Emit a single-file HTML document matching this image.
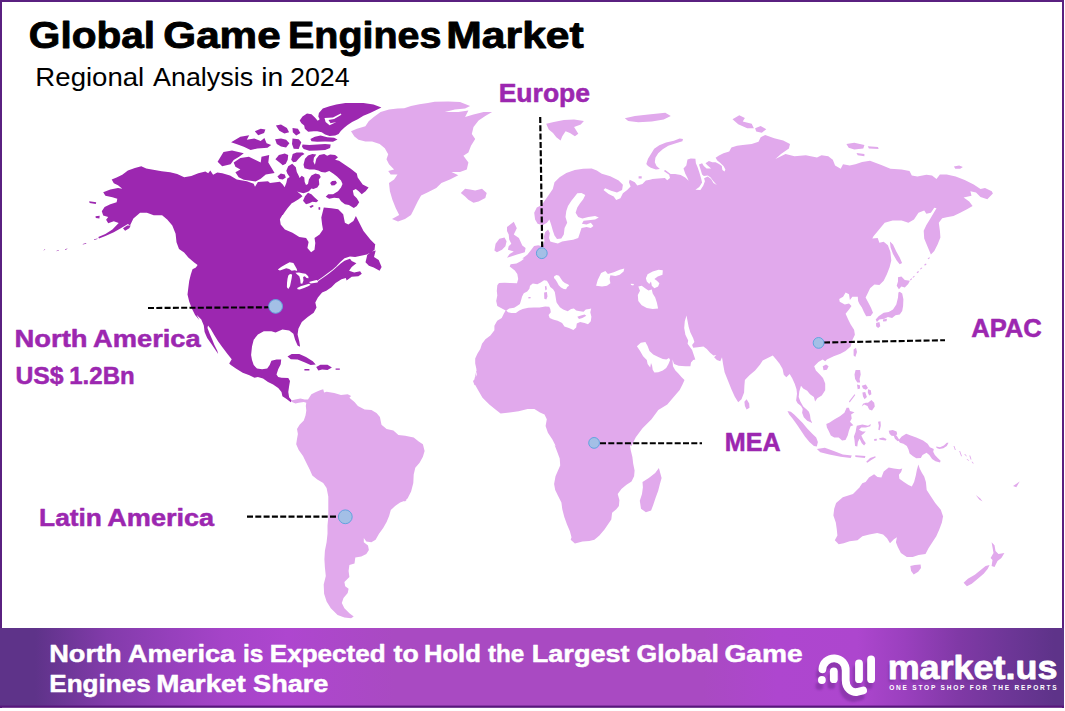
<!DOCTYPE html>
<html>
<head>
<meta charset="utf-8">
<title>Global Game Engines Market</title>
<style>
  html,body{margin:0;padding:0;background:#fff;}
  body{width:1065px;height:711px;overflow:hidden;position:relative;font-family:"Liberation Sans",sans-serif;}
  svg{position:absolute;left:0;top:0;display:block;}
  text{font-family:"Liberation Sans",sans-serif;}
  .b{font-weight:bold;}
</style>
</head>
<body>
<svg width="1065" height="711" viewBox="0 0 1065 711">
  <defs>
    <linearGradient id="fg" x1="0" y1="0" x2="1065" y2="0" gradientUnits="userSpaceOnUse">
      <stop offset="0" stop-color="#5E3389"/>
      <stop offset="0.033" stop-color="#5E3389"/>
      <stop offset="0.10" stop-color="#823BAA"/>
      <stop offset="0.16" stop-color="#9640BC"/>
      <stop offset="0.21" stop-color="#A544C8"/>
      <stop offset="0.27" stop-color="#AE46CF"/>
      <stop offset="0.37" stop-color="#A94AC2"/>
      <stop offset="0.66" stop-color="#A94AC2"/>
      <stop offset="0.73" stop-color="#AE46CF"/>
      <stop offset="0.805" stop-color="#AD46CE"/>
      <stop offset="0.85" stop-color="#9A40BE"/>
      <stop offset="0.90" stop-color="#8039A6"/>
      <stop offset="0.95" stop-color="#6C3696"/>
      <stop offset="0.99" stop-color="#5E3389"/>
      <stop offset="1" stop-color="#5E3389"/>
    </linearGradient>
    <filter id="sb" x="-20%" y="-20%" width="140%" height="140%"><feGaussianBlur stdDeviation="0.8"/></filter>
  </defs>
  <rect x="0" y="0" width="1065" height="711" fill="#fff"/>
  <!-- map -->
  <g id="map" stroke-linejoin="round">
<path fill="#9C27B0" d="M98.3,237.1 L105.4,233.9 L112.4,229.4 L118.7,222.9 L113.8,221.2 L108.2,223.3 L106.1,219.8 L108.2,217 L103.2,215.6 L101.8,211.3 L104.6,207.1 L110.3,204.3 L116.6,202.2 L117.3,198.7 L112.4,197.3 L105.4,195.8 L103.2,192.3 L110.3,189.5 L118,188.1 L122.3,188.8 L118,185.3 L113.8,183.2 L111.7,179.6 L116.6,177.5 L122.3,174.7 L127.9,170.5 L134.9,168 L141.3,166.3 L146.2,168.4 L153.2,169.8 L161.7,171.2 L170.1,172.2 L177.2,174 L184.2,177.3 L191.3,176.1 L198.3,173.3 L205.4,171.6 L208.2,173.3 L210.3,170.5 L213.1,174.7 L217.3,172.6 L222.3,173.3 L230,175.4 L236.8,179.6 L246.9,181.3 L253.7,183.8 L255,186.8 L257.9,182.1 L268,181.3 L270,183 L275.9,182.3 L279.9,181.7 L282.8,184.4 L284.6,187.2 L286.3,183 L287.3,178.5 L289.7,177 L287.3,173.6 L286.3,170.8 L288.2,166.2 L292.2,163.7 L295.8,167.2 L296.8,172.1 L298.6,175.6 L299.6,178 L301.7,175.8 L304.3,177.5 L304.7,182 L306,184.9 L308,183.9 L308.9,179.5 L311.4,175.6 L315.4,173.6 L319.3,174.6 L320.8,177 L318.8,179.5 L319.3,184.4 L317.3,187.4 L313.4,188.9 L311.4,188.4 L308.9,191.3 L306.5,192.3 L303.5,193.3 L299.6,192.3 L297.1,191.5 L300.6,194.3 L302.5,196.3 L298.6,199.2 L293.7,202.2 L291.7,203.2 L287.7,208.1 L284.8,212 L282.8,215 L282.4,215.1 L279.9,219.3 L280.7,224.4 L284.9,229.4 L292.5,232.8 L299.3,237 L306.1,237.9 L308.6,242.1 L307.4,248 L311.1,252.2 L314.5,249.7 L315.3,243 L314.5,237.9 L319.6,234.5 L323,229.4 L322.1,224.4 L321.3,217.6 L323.8,207.5 L331.4,208.3 L338.2,209.2 L343.2,214.2 L344.9,222.7 L348.3,224.4 L353.4,221 L355.9,215.9 L358.4,221 L363.5,231.1 L370.3,239.6 L375.3,244.6 L375.3,243.4 L374.5,250.1 L366.9,254.4 L355.1,256.9 L350,256.4 L344.5,258.2 L340.3,262 L336.1,266.4 L336.5,267.2 L340.7,263.5 L344.5,260.8 L350,258.7 L351.7,261.1 L356.4,263.3 L351.7,267 L349.1,270.8 L354.2,272.4 L360.1,271.3 L361.8,273.8 L358.4,276.3 L351.7,276.8 L346.6,280.6 L345.8,278 L341.5,279.2 L335.6,283.1 L331.4,287.3 L326.3,290.7 L322.1,292.4 L317.9,297.5 L315.3,302.5 L316.5,307.6 L313.7,312.7 L307.7,316.9 L301.8,322 L298.4,328.7 L297.6,334.6 L299.3,341.4 L300.1,346.8 L297.6,345.6 L295.1,339.7 L293.4,333.8 L289.2,330.4 L282.4,329.6 L275.6,332.6 L271.4,331.3 L263.8,331.3 L257.9,334.6 L253.7,339.7 L252,346.5 L251.1,354.9 L252,360 L253.7,365.1 L257,368.4 L262.1,369.3 L267.2,368.4 L269.7,365.1 L271.4,360.8 L276.5,359.5 L281.2,359.5 L280.7,364.2 L278.2,369.3 L276.5,374.4 L278.2,376.9 L281.5,377.7 L288.3,378.1 L290,381.1 L289.1,386.2 L288.3,392.1 L289.1,397.2 L291.7,400.6 L290.8,402.2 L286.6,398.9 L282.4,396.3 L281.5,392.1 L278.2,387.9 L273.1,384.5 L268,382 L263,378.6 L257.9,376.9 L254.5,377.7 L249.4,375.2 L242.7,372.7 L235.9,368.4 L230.8,365.1 L229.2,363.4 L231.7,359.2 L227.5,354.1 L222.4,347.3 L218.2,341.4 L213.9,334.6 L210.6,328.7 L208,325.4 L207.5,327.9 L209.7,333.8 L212.3,339.7 L214.3,344.8 L217.3,350.7 L218.2,354.1 L214.8,349 L211.4,343.9 L207.2,338 L204.6,332.1 L203.8,325.4 L201.3,319.4 L197,315.2 L192,308.5 L189.4,300.8 L199.3,320 L195.1,314.9 L191.7,308.2 L189.2,301.4 L187.5,294.6 L188.3,287.9 L189.2,281.1 L190.8,274.4 L192.5,269.3 L195.9,267.6 L197.6,265.1 L194.2,262.5 L188.3,257.5 L184.1,252.4 L179,249 L176.5,242.3 L175.6,233.8 L172.3,225.4 L167.2,219.4 L162.1,215.2 L153.7,215.2 L146.9,212.7 L140.1,212.7 L133.4,218.6 L130,225.4 L127.9,224 L120.8,228.2 L113.8,232.2 L105.4,236 L99,238.4Z M367.2,254.9 L371.1,251.8 L375.7,250.5 L374,256.9 L378.7,259.9 L381.6,267 L379.6,270.8 L373.7,267.4 L368.9,265.7 L365.5,262.3 L366.6,257.7Z"/>
<path fill="#FFFFFF" d="M277.8,269.4 L281.1,266.9 L285.4,264.4 L289.6,262.3 L293.4,263.1 L295.1,266.1 L296.8,269 L297.2,271.1 L294.7,270.3 L291.7,270.7 L289.2,269 L286.2,268.2 L282.8,269.4 L279.9,270.5Z M288.3,275.4 L290,274.1 L292.1,274.5 L291.7,277.9 L290.9,282.1 L290,286.3 L288.3,288.9 L286.9,287.2 L287,283 L287.5,278.7Z M295.5,272.8 L298.9,272.4 L302.3,273.2 L305.6,273.7 L308.2,276.2 L308.6,278.3 L306.5,277.9 L304.8,276.2 L303.1,277 L303.5,280.4 L302.3,283.8 L300.6,283.4 L300.2,279.6 L299.3,276.2 L297.2,274.5Z M297.2,288 L300.6,286.3 L304.8,285.1 L309,283.8 L310.7,284.7 L308.2,286.3 L304,288 L299.7,289.6 L297.6,289.3Z M309,282.1 L312.4,280.9 L316.6,280 L318.3,280.9 L317.5,282.5 L314.1,283.1 L310.7,283.4Z M317.9,280.3 L322.6,276.9 L327.6,273.3 L332.7,269.5 L336.1,266.6 L336.5,267.2 L333.1,270.3 L328,274.2 L323,277.7 L318.3,281.1Z"/>
<path fill="#9C27B0" d="M287.5,356.6 L291.7,354.1 L299.3,354.1 L306,357.1 L312.8,361.2 L315.7,364.6 L310.6,365.1 L304.4,362.2 L297.6,359.5 L290.8,359.2Z M316.2,367.1 L320.4,364.7 L327.5,364.7 L331.9,367.6 L327.5,370.1 L322.1,369.6 L318.4,370.6Z M304.4,369 L309.4,369 L309.4,370.6 L304.4,370.6Z M335.6,368.4 L339.8,368.4 L339.8,369.8 L335.6,369.8Z M89.2,201.2 L96.2,202.2 L95.8,203.9 L89.6,202.9Z M95.5,216.3 L99.7,215.8 L99.4,218.4 L95.8,218.1Z M123,228.2 L127.2,225.4 L130.7,225.4 L129.3,228.2 L125.1,230.8Z M303,200.7 L305,196.3 L308,192.8 L311.4,194.3 L314.4,197.3 L318.3,200.7 L316.3,202.2 L312.4,201.7 L309.4,203.2 L306,204.2Z M303.5,164.7 L305,158.8 L308,155.4 L312.4,153.9 L316.3,154.4 L313.9,157.8 L313.4,161.8 L314.9,164.7 L316.3,158.8 L319.3,154.9 L324.2,154.1 L327.2,155.8 L330.1,154.4 L335.1,154.9 L338,157.3 L335.1,159.8 L339,160.8 L344.9,164.7 L350.8,168.7 L356.8,173.6 L357.7,177.5 L362.7,184.4 L368.6,187.4 L365.6,191.3 L361.7,194.3 L358.7,191.3 L355.8,188.9 L352.8,190.4 L353.8,195.3 L356.8,198.2 L359.2,202.2 L356.8,206.1 L353.8,208.1 L348.9,205.1 L344.9,204.2 L341,201.2 L339,198.2 L334.1,197.7 L329.2,198.7 L325.7,196.8 L328.2,194.3 L333.1,194.3 L338,191.3 L341,187.4 L342.5,183.9 L341,180.5 L337,176.5 L333.1,173.6 L329.2,171.1 L325.2,172.6 L321.3,172.1 L318.3,170.6 L314.4,169.6 L309.4,169.6 L304.5,168.2Z M330.1,183 L332.1,181 L335.6,180.7 L337,183 L334.6,185.2 L331.6,185.4Z M291.2,159.8 L292.7,153.9 L296.6,152.4 L302.5,152.4 L304.5,153.9 L301.5,155.8 L298.6,158.8 L296.1,161.8 L293.2,162.3Z M275.4,159.3 L278.9,154.9 L284.8,153.4 L288.2,154.9 L287.7,159.8 L285.8,163.7 L282.8,165.2 L279.9,162.7Z M277.4,176.5 L280.8,173.6 L284.8,174.6 L285.8,177.5 L282.8,179.5 L279.4,179Z M309.4,206.6 L312.4,205.1 L313.9,206.1 L310.9,208.1Z M318.3,207.6 L320.1,207.1 L320.3,209.6 L318.8,210.1Z M318.9,113 L322.8,108.5 L329.6,106.3 L336.3,104.6 L345.4,103.1 L354.4,102.9 L363.4,103.1 L373.5,104.6 L381.4,107.4 L375.8,110.2 L370.1,113 L363.4,115.8 L357.7,119.2 L352.1,122 L347.6,124.9 L344.2,127.7 L340.8,131.1 L338.6,133.9 L335.2,135.6 L329.6,136.1 L325.1,134.4 L321.7,132.2 L317.2,131.3 L313.8,131.3 L308.2,131.8 L304.8,128.8 L304.2,125.4 L301.4,123.2 L299.7,120.4 L302.5,116.4 L307,113.6 L311.5,114.2 L314.9,117.5 L317.7,120.7 L319.7,119.2 L318.3,116.4Z"/>
<path fill="#FFFFFF" d="M324.5,118.1 L333,117.5 L340.8,113.6 L341.4,114.7 L334.1,118.9 L328.5,120 L330.5,123.2 L336.3,122 L329.6,125.2 L325.6,122Z"/>
<path fill="#9C27B0" d="M310.4,138.9 L314.9,136.7 L320.6,135.6 L327.3,137.3 L334.1,137.8 L337.5,139.5 L333,141.8 L325.1,141.4 L317.2,141.8 L311.5,141.2Z M302.5,144.6 L309.3,145.1 L317.2,144.6 L325.1,144 L330.7,144.6 L330.1,148 L325.1,150 L317.2,150.4 L309.3,150.8 L303.7,149.1 L302,146.8Z M275.9,125.4 L281,124.6 L286.9,128 L289.1,132.2 L284.4,133.5 L279.3,130.8Z M292.5,128 L297.9,128.8 L300.4,133 L296.2,135.6 L292.8,132.2Z M275.1,139.3 L281,138.6 L286.1,139.8 L289.4,143.2 L286.1,147.4 L281,146.5 L276.8,144Z M292.5,138.6 L298.7,139.3 L301.3,142.3 L298.7,149.1 L293.7,148.7 L292,144Z M254.8,131.3 L260.7,128.8 L265.4,129.6 L264.1,133 L258.2,135.2Z M231.1,142.3 L240.4,136.7 L249.2,135.2 L246.8,139.8 L254.3,138.6 L260.7,141 L264.4,138.1 L266.6,143.2 L271.2,144.9 L267.5,147.7 L257.3,148.4 L250.6,150.1 L243.8,146.7 L237,144.3Z M217.6,161.8 L223.5,152 L232,150.4 L243.8,153.3 L239.1,156.7 L233.7,160.1 L230.6,164.3 L222.2,166.3Z M233.7,162.6 L240.4,157.9 L248.9,156.7 L255.6,160.1 L260.7,162.6 L261.5,156.7 L269.2,155 L268.3,162.6 L272.5,169.4 L274.6,173.1 L265.8,174.4 L260.7,178.7 L255.6,181.5 L243.8,179.8 L238.7,177.3 L235.4,172.2 L240.4,169.4 L235.4,166.8Z"/>
<path fill="#E1A9EC" d="M351,131.3 L356.9,128.8 L365.4,126.3 L368.7,121.2 L373.8,117 L380.6,111.9 L389,109.4 L397.5,108.5 L404.2,108.2 L411,106 L419.4,104.3 L427.9,103.1 L434.6,101.8 L448.2,101.4 L460,102.1 L470.1,106 L465.1,108.5 L454.9,109.4 L444.8,111.9 L458.3,111.9 L468.4,110.5 L465.1,117 L473.5,114.4 L483.7,111.9 L492.1,111.9 L485.3,116.1 L478.6,120.4 L473.5,127.1 L471.8,133.9 L475.2,138.9 L471,145.7 L468.4,152.5 L463.4,155.8 L468.4,162.6 L466.8,169.4 L460,171.9 L451.5,171.9 L458.3,175.3 L449.9,179.5 L441.4,182.9 L436.3,188 L427.9,192.2 L421.1,195.6 L417.7,201.5 L414.4,208.2 L411,215 L405,219 L398,221.5 L392,219 L399.2,215 L395.8,208.2 L392.4,199.8 L389.9,191.3 L389,182.9 L394.1,179.5 L397.5,174.4 L390.7,174.4 L388.2,171.1 L394.1,169.4 L389,164.3 L386.5,159.2 L388.2,154.2 L384.8,148.2 L379.7,144 L372.1,141.5 L365.4,141.5 L358.6,139.8 L354.4,136.4Z M460.8,193 L465.1,188.8 L470.1,189.6 L475.2,190.5 L482,188.8 L486.7,193 L485.3,198.1 L478.6,201.5 L473.5,202.8 L468.4,199.8 L465.1,196.4Z M291.1,400.5 L295.4,399.4 L300.4,398.5 L304.6,399.4 L308,399.4 L311.4,394.3 L316.5,391.8 L320.7,390.1 L323.2,389.2 L324.1,392.6 L326.6,391.8 L334.2,393.1 L341,395.1 L347.7,394.3 L351.1,396 L349.4,397.7 L354.5,401.9 L357.9,406.1 L364.6,409.5 L371.4,410 L376.5,412.9 L379.9,417.1 L381.5,424.7 L386.6,428.9 L393.4,430.6 L398.4,434.9 L405.2,435.7 L413.7,437.4 L418.7,441.6 L422.9,444.2 L424.6,450.9 L422.9,456.8 L419.6,462.7 L415.3,467.8 L413.7,474.6 L413.3,483 L411.1,491.5 L407.7,498.2 L403.5,502.5 L406.9,500 L400.1,502.5 L395.1,505.9 L390.8,510.1 L389.1,516.1 L386.6,522 L383.2,527.9 L379,533.8 L375.6,539.7 L371.4,542.3 L366.3,541.4 L363.8,538 L363.8,542.3 L368,545.6 L368.9,549.9 L366.3,554.1 L361.3,556.6 L355.3,557.5 L354.5,563.4 L349.4,565.1 L348.6,571 L349.4,576.9 L344.4,582 L345.2,586.2 L348.6,588.7 L347.7,593 L343.5,598 L341.8,603.1 L344.4,608.2 L349.4,613.2 L353.7,616.6 L351.1,618.3 L344.4,617.5 L337.6,614.9 L330.8,608.2 L326.6,601.4 L324.1,593.8 L323.7,584.5 L325.8,576.1 L324.9,567.6 L324.4,559.2 L324.9,550.7 L326.6,542.3 L327.5,533.8 L327.5,525.4 L328.3,516.9 L328.3,508.5 L328.3,500 L328.3,496.5 L326.6,488.1 L323.2,483 L317.3,479.6 L312.3,475.4 L309.7,469.5 L306.3,462.7 L303,456 L298.7,450.1 L296.2,444.2 L297,439.1 L297.9,434 L297,428.9 L299.6,424.7 L303.8,420.5 L305.5,415.4 L306.3,410.4 L305.8,406.1 L306.3,402.7 L303.8,401.9 L298.7,402.7 L295.4,403.6 L292,401.9Z M505.2,310.3 L497.3,306.1 L496.2,301.1 L497.3,295.4 L496.8,290.9 L497.3,285.3 L499,283 L504.6,282.8 L510.3,283 L517,283.3 L518.2,279.1 L517.3,274 L514.8,270.6 L509.7,266.4 L510.6,264.2 L516.5,263.5 L520.7,261.3 L524.1,258.8 L522.3,258.4 L527.3,254.8 L530.7,250.6 L534.1,245.9 L538.3,245.3 L542.6,246.5 L544.4,241.4 L544,236.3 L545.2,232.1 L548.1,229.6 L549.8,233 L549.1,238 L550.3,241.4 L552.8,242.2 L557.9,243.4 L562.1,241.4 L568,240.6 L573.1,239.7 L578.2,238 L579.9,233 L581.5,227.9 L586.6,227 L590.8,227.9 L593.4,225.9 L590.8,222.8 L586.6,224.5 L581.9,223.7 L583.6,220.8 L588.3,220.3 L595.1,219.4 L598.8,217.4 L595.1,216.1 L588.3,216.9 L582.4,218.6 L578.2,216.9 L575.6,212.7 L577.3,207.6 L579.9,203.4 L583.2,199.2 L585.3,194.9 L581.5,192.9 L577.3,193.2 L574.8,196.6 L571.4,200.8 L568,205.9 L566.3,211 L565.5,216.9 L567.2,222.8 L564.6,227.9 L563.8,234.6 L561.3,238.4 L557,238.9 L554.5,235.5 L552.8,230.4 L551.1,224.5 L549.4,219.4 L546.9,222.8 L542.7,225.3 L537.6,223.7 L535.1,219.4 L534.2,212.7 L536.8,207.6 L541.8,205.1 L545.2,200 L549.4,194.1 L552.8,189 L554.5,182.3 L559.6,177.2 L566.3,173 L574.8,170.1 L583.2,168.7 L591.7,168.4 L596.8,170.4 L601.8,173.8 L610.3,176.3 L618.7,180.6 L622.9,184.8 L622.1,189.9 L617,192.4 L611.1,190.7 L605.2,188.2 L603.5,189.9 L608.6,194.1 L613.7,196.6 L616.2,200 L620.4,198.3 L622.9,193.2 L627.2,189.9 L630.6,186.5 L628.9,182.3 L629.7,179.7 L634.8,182.3 L637.3,185.6 L642.4,183.9 L645.8,180.6 L650,179.7 L652.5,179.1 L658.2,178.5 L664.9,178 L667.2,180.2 L670,178 L669.2,174.8 L663.8,171 L665.2,170.1 L670.6,174 L675.1,174 L680.7,175.1 L685.2,177.4 L688.6,180.8 L687.5,178 L685.2,173.5 L683.5,168.4 L686.3,165.6 L687.5,159.4 L690.8,158.6 L695.4,158.8 L695.9,163.3 L697.6,167.3 L699.3,172.3 L701,178 L702.1,182.5 L699.3,187 L695.4,189.8 L700.4,190.1 L703.2,185.8 L704.9,181.3 L704.1,178.2 L707.7,176.6 L711.1,179.1 L713.4,183 L716.8,184.9 L713.2,181.1 L710.6,177.4 L707.7,175.5 L703.8,175.9 L702.1,174.6 L700.4,168.9 L699,164.4 L702.1,163.3 L703.8,166.1 L706.6,168.4 L711.1,168.6 L707.7,165.6 L705.5,163.3 L708.9,161.1 L712.3,162.2 L715.6,162.2 L719,163.9 L721.8,166.1 L722.4,170.1 L724.6,171.4 L725.4,169.5 L723.5,166.1 L720.1,162.7 L717.3,160.5 L715.6,157.7 L719,155.4 L723.5,153.2 L729.2,151.5 L731.4,147.5 L737,145.8 L742.7,145.1 L751.7,143.9 L758.5,141.7 L760.7,137.2 L765.2,134.9 L774.2,138.3 L783.2,140.6 L790,143.9 L788.9,148.5 L781,154.1 L775.4,159 L785.5,154.1 L794.5,156.3 L805.8,155.2 L817,157.5 L821.5,155.2 L828.3,156.3 L832.8,159.7 L835.1,165.4 L840.7,168.7 L843,164.2 L849.7,165.4 L855.4,164.2 L862.1,162 L870,160.8 L881.3,164.9 L890.4,168.7 L901.6,169.4 L909.5,171 L911.8,175.5 L917.4,176.6 L926.4,174.8 L932,175.5 L936.5,178.9 L939.9,174.4 L946.7,174.4 L955.7,176.6 L964.7,180 L973.7,184.5 L980.5,189 L985,187.9 L991.8,191.3 L992.9,193.5 L987.3,199.2 L980.5,196.9 L976,192.4 L970.4,191.3 L971.5,195.8 L963.6,197.4 L969.2,201.4 L972.6,205.9 L967,209.3 L960.2,212.7 L953.5,216.1 L946.7,217.2 L942.2,218.3 L938.8,222.8 L939.9,230.7 L940.4,237.5 L937.7,244.2 L934.3,251 L930.9,254.4 L927.5,246.5 L924.2,238.6 L923.7,230.7 L926.4,225.1 L929.8,219.4 L933.2,213.8 L936.5,208.2 L934.3,207.7 L930.9,212.7 L926.4,213.8 L924.2,210.4 L918.5,212.7 L914,219.4 L908.4,222.8 L901.6,220.6 L892.6,220.6 L884.7,222.8 L879.1,229.6 L873.5,236.3 L872.3,238.5 L877.7,238.1 L879.4,242.7 L883.7,241.8 L887.9,245.2 L890.4,252 L891.3,260.4 L889.6,267.2 L887,273.9 L883.7,280.7 L879.4,284.9 L874.4,284.4 L870.1,288.3 L867.6,293.4 L865.6,297.6 L868.4,302.7 L871,307.7 L873,312.8 L870.6,315.9 L866.2,316.2 L863.9,312 L861.9,307.4 L859.5,304 L858.1,301 L857.8,296.8 L852.4,296.8 L849.9,300.1 L849,294.2 L845.6,292.5 L843.1,296.8 L839.2,299 L839.7,301.8 L844.8,304.4 L849,303.5 L851.5,306.1 L849,309.4 L845.6,313.7 L848.2,319.6 L850.7,324.6 L854.1,329.7 L854.9,334.8 L852.4,339.9 L850.7,346.6 L845.5,351.1 L840.4,353.7 L833.7,356.2 L826.9,359.6 L825.2,361.3 L822.7,359.6 L818.4,362.1 L814.2,366.3 L815.9,370.6 L820.1,374.8 L823,377.9 L825.2,383.5 L825.2,390.3 L821.8,395.4 L817.3,398.2 L815.1,401.5 L813.9,397 L810,394.2 L807.2,390.8 L803.2,388.6 L801,385.8 L799.3,391.4 L798.7,397 L800.4,401.5 L803.2,406.6 L806.1,408.9 L808.9,411.7 L810,415.1 L810.6,419.6 L812.3,423 L807.2,420.7 L803.8,417.3 L802.1,412.8 L802.7,408.9 L801,406.1 L797.6,403.2 L796.1,400.4 L797,393.7 L796.5,389.2 L794.8,384.1 L792.2,378.2 L789.7,373.9 L786.3,377.3 L783.8,374.8 L782.6,368.9 L779.6,363.8 L776.2,359.6 L772.8,355.4 L767.7,357.9 L762.7,360.4 L760.1,364.6 L755.1,370.6 L749.2,375.6 L744.9,379.9 L744.4,385.8 L744.1,392.5 L741.5,399.3 L738.2,402.3 L734.8,396.8 L731.4,389.2 L728,380.7 L724.6,372.3 L723,363.8 L722,357.3 L720.3,361.3 L716.9,360.1 L714.1,357.3 L716.3,355.1 L713.5,355.6 L710.1,352.8 L706.8,348.9 L703.4,346.6 L697.7,347.2 L693.2,347.7 L692.1,344.9 L694.4,342.1 L693.2,338.2 L690.4,332.5 L688.7,326.9 L687.6,321.3 L686.5,315.6 L684.8,321.3 L684.2,328 L685.4,334.8 L688.2,340.4 L687.6,343.8 L692.1,350 L693.8,355.1 L695.3,359.6 L693.2,360.1 L691,362.4 L690.4,366.3 L685.4,366.3 L678.6,365.8 L674.1,364.1 L672.4,359.6 L673,366.3 L675.2,370.3 L678.6,373.7 L681.4,377 L684.5,379.9 L682.5,384.4 L679.7,390 L674.1,396.6 L667.3,404.5 L658.3,410.1 L651.5,419.2 L642.5,428.2 L635.8,437.2 L631.3,446.2 L629.9,445.1 L630.7,450.1 L632.4,456.9 L633.2,463.7 L634.6,470.4 L634.1,476.3 L631.5,481.4 L626.5,484.8 L621.4,489 L617.7,494.1 L619.4,500 L618.9,505.9 L616.3,509.3 L612.1,512.7 L611.3,519.4 L607.9,524.5 L604.5,529.6 L599.4,535.5 L594.4,539.7 L589.3,541.1 L582.5,541.4 L574.9,543.4 L570.7,539.7 L571.5,537.2 L569.9,531.3 L567,524.5 L564.3,516.9 L562.3,509.3 L561.4,502.5 L558,495.8 L555.2,489.9 L554.1,483.9 L555.5,476.3 L558,470.4 L560.2,465.4 L559.7,458.6 L557.2,451.8 L554.6,445.1 L555.8,446.2 L552.4,439.4 L547.9,432.7 L545.6,425.9 L546.8,419.2 L544.5,414.6 L540,412.4 L534.4,409 L527.6,409 L518.6,411.3 L509.6,412.4 L500.6,413.5 L496.1,410.1 L489.3,404.5 L482.5,397.7 L478,389.9 L473.5,382 L474.6,378.6 L476.9,368.5 L474.6,385.5 L473,381 L475.2,378.7 L476.9,374.2 L476.3,368.6 L475.2,363.5 L475.2,358.5 L477.5,353.4 L480.3,348.9 L482,343.8 L485.4,339.3 L490.4,335.4 L494.4,330.3 L494.4,325.8 L497.2,320.7 L501.7,317.9 L503.9,313.4 L505.6,310.6Z"/>
<path fill="#FFFFFF" d="M506.3,310.6 L509.2,308.4 L514.2,307.8 L517,306.1 L519.9,303.9 L521,300.5 L522.1,296.5 L523.8,293.2 L527.2,291.5 L529.4,288.7 L530,285.8 L532.8,283.6 L537.3,284.2 L540.7,282.5 L544.1,280.2 L546.9,280.8 L548.6,283.6 L550.3,287 L553.1,289.2 L554.8,292 L555.4,295.4 L555.9,298.8 L556.5,302.2 L557.6,303.9 L559.9,307.3 L563.2,309.5 L567.7,311.2 L571.1,308.9 L573.9,308.4 L576.2,310.6 L580.1,311.2 L583.5,311.8 L585.8,309.5 L589.2,308.9 L591.2,308.4 L590.3,312.3 L591.4,316.8 L590.8,321.3 L588,324.2 L584.6,323 L580.1,321.9 L576.8,323.6 L576.2,327.5 L573.4,330.1 L568.9,328.1 L564.4,326.4 L562.1,323 L557.6,320.8 L553.1,319.6 L549.7,318 L548.6,315.1 L550.8,312.3 L550.3,308.9 L549.2,306.7 L545.2,306.5 L539.6,307.6 L533.9,307.6 L528.3,307.8 L522.7,308.9 L519.3,310.6 L515.9,312.9 L511.4,312.9 L508,312.3Z M554.2,276.3 L556.5,274.9 L559,275.7 L560.8,278.5 L562.7,281.3 L564.9,283 L568.3,284.4 L569.1,285.8 L567.2,287 L566.1,289.2 L563.8,288.9 L561,287.5 L558.7,285.3 L557,281.9 L555.4,279.6 L554,278Z M596.1,285.8 L597.7,279.9 L601.1,273.1 L605.4,270.9 L607.9,273.9 L613.8,272.3 L619.7,269.7 L624.3,268.5 L623.6,271.4 L619.7,274.8 L615.5,276 L610.4,275.3 L609.6,279 L610.4,283.2 L607,285.8 L602,286.6Z M630.7,283.7 L634.1,284.1 L633.2,285.4 L631,285.1Z M645.9,278.2 L647.6,274.3 L652.7,271.4 L658.6,269.7 L662.8,270.2 L662.5,274.8 L657.7,276.5 L654.4,279 L656.9,280.7 L659.4,283.2 L658.1,286.6 L654.4,288.3 L651.8,285.8 L651,281.5 L649.3,284.1 L646.8,281.5Z M638.3,286.6 L641.7,285.8 L645.1,288.3 L648.4,290.5 L651.8,289.5 L652.7,293.4 L655.2,297.6 L656.9,302.7 L658.1,308.6 L652.7,309.1 L646.8,308.1 L641.7,305.2 L638.3,301 L637.8,295.1 L640,290.8Z M636.9,346.3 L640.8,342.7 L645.4,342.1 L647.6,346.1 L649.5,351.1 L653.2,354.5 L658.3,357.1 L662.8,359 L666.4,359.4 L669,357.9 L670.1,360.1 L668.5,364.1 L666.2,368 L662.8,370.6 L658.3,372.2 L654.4,372.5 L652.7,369.7 L652.1,365.8 L651,363 L650.2,367.5 L647.6,364.1 L646.8,360.1 L643.1,356.2 L640.1,351.1Z"/>
<path fill="#E1A9EC" d="M544.9,286.4 L546.3,285.8 L546.9,289.2 L545.4,290.4Z M544.1,292.6 L546.9,292 L547.5,296.5 L546.3,299.4 L544.3,298.8Z M577.3,316.8 L580.1,315.7 L584.6,314.6 L586.3,315.7 L582.4,318 L579,318.9Z M528.3,297.1 L530.6,296.9 L530.6,298.2 L528.5,298.4Z M507,226.9 L513.8,221.8 L516.8,228.2 L513.8,234.5 L518.9,237.9 L522.3,245.5 L525.6,248 L524.8,252.3 L516.3,254.8 L507,257.8 L509.6,254 L513.8,251.4 L507.9,249.7 L508.7,246.3 L511.3,243.8 L509.2,239.6 L508.7,234.5 L507,231.1Z M494.4,250.6 L495.6,243.8 L499.4,238.7 L504.5,237.5 L506.6,241.3 L505.4,246.3 L502,249.7 L496.9,252.3Z M546.2,123.7 L553.8,122 L563.9,119.9 L574.1,119.4 L583.9,121.1 L580.8,124.5 L574.1,127 L578.3,133.8 L574.9,136.3 L569.9,133 L565.6,131.3 L562.3,136.3 L560.6,140.6 L556.3,137.2 L553,133 L548.7,129.6Z M624.8,118.3 L634.9,116.1 L648.4,114.4 L665.3,112.7 L670.8,116.1 L663.7,119.4 L651.8,121.6 L638.3,122.3 L628.2,121.1Z M646.3,163.9 L648,158.8 L650.8,154.3 L654.2,148.7 L659.3,145.3 L666.1,142.5 L673.9,140.8 L679.6,138.5 L683,139.1 L682.4,141.3 L675.1,143.6 L668.3,145.8 L662.7,149.2 L658.2,153.2 L655.4,157.7 L654.8,162.2 L656.5,166.1 L659.9,168.9 L655.9,169.5 L650.8,167.8 L648,166.1Z M732.5,119.2 L739.3,115.3 L744.9,118 L742.7,121.4 L751.7,123.7 L753.9,128.2 L747.2,128.2 L738.2,124.3Z M755.1,128.2 L760.7,125.9 L766.3,129.3 L761.8,132.7 L756.2,131.5Z M846.4,143.9 L854.3,142.8 L864.4,145.1 L863.3,148.5 L854.3,149.6 L848.7,147.8Z M867.8,146.2 L878,146.9 L878.6,149.1 L868.9,148.5Z M856.5,153 L864.4,154.1 L864.4,156.3 L857.7,155.2Z M953.9,166.5 L959.1,165.4 L962.9,166.9 L960.2,168.7 L955.3,168.7Z M638.6,176.2 L641.7,176.2 L641.7,178.4 L638.6,178.4Z M889.9,241.5 L893,244.4 L896.3,251.6 L899.7,257.5 L902.1,263 L899.7,264.3 L896.7,260.4 L893,254 L890.6,247.6Z M898,277.3 L901.4,276.5 L904.8,279.9 L909.9,280.7 L908.2,284.1 L904.8,287.5 L901.4,286.6 L898.9,289.2 L896.7,285.8 L898,281.5Z M899.7,291.7 L902.2,293.4 L903.4,299.3 L903.1,306.1 L902.2,311.1 L899.7,314.5 L895.5,315.3 L892.1,317.9 L887.9,317 L884.5,318.7 L879.4,319.6 L876.9,322.1 L875.7,319.6 L878.6,316.2 L883.7,312.8 L888.7,312 L893,309.4 L896.3,304.4 L898,297.6 L898.4,292.5Z M876.1,323 L879.4,322.1 L880.3,326.3 L878.1,328 L876.1,326.3Z M882.8,319.6 L887,318.7 L886.5,321.3 L883.2,321.6Z M822.7,366.3 L826,364.6 L828.6,366.3 L826.9,369.7 L823.5,370.2Z M853.6,349.4 L856,347.7 L857,352 L855.3,357 L853.6,355.4Z M744.4,401.8 L746.6,399.3 L749.2,403.5 L749.5,407.7 L746.6,409.4 L744.9,406.1Z M787.5,411.1 L790.8,411.7 L794.2,414.5 L798.2,418.5 L802.7,423 L807.2,428.6 L812.3,433.7 L816.2,437.6 L817.9,442.1 L816.8,446.6 L813.9,446.1 L809.4,442.1 L804.9,436.5 L800.4,429.7 L796.5,424.1 L792.5,418.5 L789.2,414.5Z M826.3,424.1 L829.7,422.4 L834.2,419.6 L839.9,416.2 L844.4,412.8 L846.6,407.7 L848.9,407.7 L850,411.1 L854.5,412.3 L851.1,414.5 L851.7,418.5 L850,421.8 L853.4,425.2 L850.6,426.3 L848.9,430.8 L847.7,435.4 L845.5,439.9 L842.1,440.4 L838.7,437.6 L834.2,437.6 L830.8,435.4 L828.6,430.8 L826.9,427.5Z M856.8,425.8 L862.4,424.6 L868,425.8 L870.8,424.1 L870.3,426.3 L865.8,427.5 L861.3,427.5 L859,429.7 L862.4,431.4 L865.8,431.4 L863.5,433.7 L861.3,435.4 L863.5,439.9 L865.8,443.2 L864.1,445.5 L861.8,443.2 L859.6,438.7 L857.9,442.1 L857.3,446.6 L855.1,446.1 L854.5,439.9 L853.9,436.5 L855.6,432 L856.2,428.6Z M816.9,448.9 L824.8,447.7 L833.8,451.1 L842.8,454.5 L851.8,455.6 L850.7,457.9 L840.6,456.8 L829.3,454.5 L820.3,452.3Z M855.2,455.2 L865.4,456.1 L864.9,457.9 L855.4,457Z M975.8,495.1 L980.3,498.5 L982.5,501.4 L979.2,499.6Z M1013,486.1 L1019.7,481.5 L1016.3,487.2Z M836.1,503 L842.8,497.3 L853,493.9 L859.7,487.2 L860,486.6 L862.3,483.2 L865.6,482.1 L869,477.6 L874.1,474.2 L877.5,477 L881.4,477.6 L883.7,471.4 L888.7,467.5 L893.8,468.6 L899.4,469.2 L902.3,468.6 L901.1,472 L898.9,474.8 L899.4,478.7 L903.9,482.1 L908.5,484.9 L911.8,486.6 L914.1,482.1 L915.8,475.4 L916.9,469.7 L918.4,464.6 L919.7,468.6 L922,473.1 L924.2,476.5 L925.9,482.1 L926.7,490 L935.2,503 L940.8,509.7 L943.1,516.5 L943.2,515.6 L941.9,522.5 L939.3,529.4 L936.3,536.3 L932.4,542.3 L928.5,548.2 L925.5,554.1 L918.6,555.1 L912.7,557 L906.8,557 L900.9,553.1 L897.9,547.2 L895.9,542.3 L896.9,537.3 L893.9,539.3 L890,543.2 L887,538.3 L883.1,534.4 L877.2,533 L869.3,534.4 L862.4,536.3 L857.5,540.3 L849.6,541.3 L843.7,543.2 L838.7,544.2 L834.8,540.3 L837.4,535.4 L836.8,529.4 L835.8,522.5 L833.4,515.6 L834.2,508.7Z M910.3,565.9 L914.7,564.9 L920.6,564.5 L921,567.9 L918.2,571.8 L913.7,574.4 L911.1,570.9Z M991.6,542.3 L994.5,545.2 L995.5,551.1 L998.5,554.1 L1004.4,553.1 L1001.4,558 L997.5,561 L994.5,566.9 L991.6,565.9 L992.5,560 L990.6,558 L993.5,553.1 L992.5,547.2Z M989.6,564.9 L987.6,568.9 L983.7,573.8 L977.8,578.7 L971.8,583.7 L966.9,586.2 L963.6,582.7 L967.9,578.7 L974.8,574.8 L980.7,569.9 L985.6,565.9Z M658.9,467.9 L661.6,478 L659.9,483.9 L658.2,490.7 L655.7,497.5 L653.2,505.1 L651.1,510.5 L645.9,512.2 L641,508.8 L639.8,500.8 L642,494.1 L642.9,487.3 L642.5,481.9 L648.8,478 L655.2,473Z M916.6,272.3 L918.3,271.1 L919,271.9 L917.3,273.3Z M924.2,264.6 L925.9,263.5 L926.6,264.3 L924.9,265.7Z"/>
<path fill="#9C27B0" d="M94.1,239.3 L97.5,238.5 L97.5,239 L94.1,239.9Z M82.8,243.9 L86.2,243.1 L86.2,243.7 L82.8,244.5Z M65.1,249.3 L67.3,248.5 L67.3,249 L65.1,249.9Z M56.6,250.7 L58.9,249.9 L58.9,250.4 L56.6,251.3Z M43.7,249.9 L45.1,249 L45.1,249.6 L43.7,250.4Z"/>
<path fill="#E1A9EC" d="M855.6,370 L860.1,370 L860.7,374.5 L859.6,379 L860.1,382.4 L857.3,382.4 L855.1,379 L854.5,374.5Z M857,384.6 L859.9,385.2 L860.1,388.6 L857.7,389.2Z M861.8,385.8 L865.8,384.6 L868,388 L865.8,389.7 L863,388.6Z M868,389.2 L870.8,390.3 L871.4,394.2 L869.2,395.4 L867.8,392.5Z M862.4,392.5 L865.2,392 L866.9,397 L864.6,399.3 L863,396.5Z M868,402.7 L871.4,399.9 L874.2,402.7 L874.8,406.6 L872,410.6 L869.2,409.4 L867.5,406.1 L864.1,404.4 L861.8,406.6 L863,403.8 L865.8,402.7Z M848.9,401.5 L854.5,394.2 L855.3,395 L849.7,402.5Z M898.3,440.4 L901.7,436.5 L906.2,433.7 L910.7,435.4 L916.3,437.6 L923.1,440.4 L927.6,443.8 L929.9,447.2 L933.8,448.9 L933.2,451.7 L934.9,455.1 L937.7,457.9 L940.6,460.7 L940,462.4 L935.5,461.3 L932.1,459 L929.3,455.1 L926.5,452.8 L922.5,455.1 L920.8,457.9 L916.3,458.2 L913,456.2 L909.6,453.4 L908.5,449.4 L906.8,446.1 L903.4,443.8 L900,442.7Z M888.7,430.8 L892.7,430.1 L896.6,431.4 L897.2,434.2 L894.9,435.9 L891.5,435.7 L889.5,433.7Z M893.8,435.7 L896.6,435.4 L899.4,439.9 L897.7,441.3 L894.9,438.7Z M936.1,446.6 L940,447.2 L943.9,445.5 L946.8,442.7 L948.5,442.7 L946.8,446.1 L943.4,448.3 L939.4,448.9 L936.6,448.1Z M878,421.8 L880.5,421.3 L880.8,425.8 L879.7,430.3 L878.3,429.7 L878.9,425.8Z M879.2,438.2 L883.1,437.6 L886.5,439.1 L885.9,440.4 L882,439.9 L879.4,439.5Z M874.1,439.1 L876.7,438.7 L876.9,440.6 L874.4,441Z M866.2,461.8 L870.1,457.9 L875.2,456.2 L875.8,457.3 L871.3,460.1 L867.3,462.7Z M953.5,446.1 L954.4,446.1 L955.8,450 L954.9,450Z M959.2,451.1 L960.1,451.1 L962,456.2 L961.1,456.2Z M964.2,453.9 L965.1,453.9 L967,456.2 L966.1,456.2Z M966.5,459 L967.4,459 L969.3,460.7 L968.4,460.7Z M969.3,455.6 L970.2,455.6 L971.5,459.6 L970.6,459.6Z M971.5,461.8 L972.5,461.8 L973.8,463.5 L972.9,463.5Z M927.6,258.6 L929.3,257.2 L930,257.9 L928.3,259.2Z M920,268.7 L921.7,267.4 L922.4,268 L920.7,269.4Z M912.4,277.2 L914.1,275.8 L914.8,276.5 L913.1,277.8Z M909.9,279.7 L911.5,278.3 L912.2,279 L910.5,280.4Z"/>
  </g>
  <!-- leader lines -->
  <g stroke="#000" stroke-width="2.1" stroke-dasharray="6 2.3" fill="none">
    <line x1="148" y1="308" x2="269" y2="307.3"/>
    <line x1="540.2" y1="117" x2="542.2" y2="247" stroke-width="2.2"/>
    <line x1="824" y1="342.5" x2="945" y2="340.2"/>
    <line x1="600" y1="443.2" x2="702" y2="443.2"/>
    <line x1="247" y1="516.6" x2="339" y2="516.6"/>
  </g>
  <g fill="#A3BFE6" stroke="#62A3DF" stroke-width="1">
    <circle cx="275.6" cy="306.4" r="6.9"/>
    <circle cx="541.8" cy="253.2" r="5.4"/>
    <circle cx="818.6" cy="342.9" r="5.4"/>
    <circle cx="594.1" cy="442.9" r="5.4"/>
    <circle cx="345.3" cy="516.8" r="6.9"/>
  </g>
  <!-- frame -->
  <rect x="0" y="0" width="1064" height="2" fill="#5A2080"/>
  <rect x="0" y="0" width="2" height="708" fill="#5A2080"/>
  <rect x="1062" y="0" width="2" height="708" fill="#5A2080"/>
  <!-- footer -->
  <rect x="0" y="628" width="1064" height="78" fill="url(#fg)"/>
  <rect x="0" y="705.6" width="1064" height="2.2" fill="#58167C"/>
  <!-- labels -->
<text x="28.88" y="47.60" font-size="37.65" font-weight="bold" fill="#000" textLength="126.21" lengthAdjust="spacingAndGlyphs" stroke="#000" stroke-width="0.9" stroke-linejoin="round">Global</text>
<text x="163.31" y="47.60" font-size="37.65" font-weight="bold" fill="#000" textLength="117.34" lengthAdjust="spacingAndGlyphs" stroke="#000" stroke-width="0.9" stroke-linejoin="round">Game</text>
<text x="288.04" y="47.60" font-size="37.65" font-weight="bold" fill="#000" textLength="153.43" lengthAdjust="spacingAndGlyphs" stroke="#000" stroke-width="0.9" stroke-linejoin="round">Engines</text>
<text x="446.33" y="47.60" font-size="37.65" font-weight="bold" fill="#000" textLength="137.46" lengthAdjust="spacingAndGlyphs" stroke="#000" stroke-width="0.9" stroke-linejoin="round">Market</text>
<text x="35.39" y="86.10" font-size="25.29" fill="#000" textLength="108.87" lengthAdjust="spacingAndGlyphs">Regional</text>
<text x="153.00" y="86.10" font-size="25.29" fill="#000" textLength="100.11" lengthAdjust="spacingAndGlyphs">Analysis</text>
<text x="261.16" y="86.10" font-size="25.29" fill="#000" textLength="22.08" lengthAdjust="spacingAndGlyphs">in</text>
<text x="290.06" y="86.10" font-size="25.29" fill="#000" textLength="59.64" lengthAdjust="spacingAndGlyphs">2024</text>
<text x="498.67" y="101.70" font-size="25.00" font-weight="bold" fill="#9C27B0" textLength="91.45" lengthAdjust="spacingAndGlyphs" stroke="#9C27B0" stroke-width="0.5" stroke-linejoin="round">Europe</text>
<text x="14.52" y="346.60" font-size="24.27" font-weight="bold" fill="#9C27B0" textLength="73.06" lengthAdjust="spacingAndGlyphs" stroke="#9C27B0" stroke-width="0.5" stroke-linejoin="round">North</text>
<text x="93.12" y="346.60" font-size="24.27" font-weight="bold" fill="#9C27B0" textLength="107.56" lengthAdjust="spacingAndGlyphs" stroke="#9C27B0" stroke-width="0.5" stroke-linejoin="round">America</text>
<text x="15.41" y="383.50" font-size="24.42" font-weight="bold" fill="#9C27B0" textLength="48.17" lengthAdjust="spacingAndGlyphs" stroke="#9C27B0" stroke-width="0.5" stroke-linejoin="round">US$</text>
<text x="69.26" y="383.50" font-size="24.42" font-weight="bold" fill="#9C27B0" textLength="65.46" lengthAdjust="spacingAndGlyphs" stroke="#9C27B0" stroke-width="0.5" stroke-linejoin="round">1.2Bn</text>
<text x="39.09" y="525.50" font-size="24.56" font-weight="bold" fill="#9C27B0" textLength="62.86" lengthAdjust="spacingAndGlyphs" stroke="#9C27B0" stroke-width="0.5" stroke-linejoin="round">Latin</text>
<text x="107.22" y="525.50" font-size="24.56" font-weight="bold" fill="#9C27B0" textLength="106.96" lengthAdjust="spacingAndGlyphs" stroke="#9C27B0" stroke-width="0.5" stroke-linejoin="round">America</text>
<text x="724.77" y="450.90" font-size="25.29" font-weight="bold" fill="#9C27B0" textLength="55.82" lengthAdjust="spacingAndGlyphs" stroke="#9C27B0" stroke-width="0.5" stroke-linejoin="round">MEA</text>
<text x="971.16" y="336.90" font-size="25.29" font-weight="bold" fill="#9C27B0" textLength="70.69" lengthAdjust="spacingAndGlyphs" stroke="#9C27B0" stroke-width="0.5" stroke-linejoin="round">APAC</text>
<text x="49.23" y="661.60" font-size="24.56" font-weight="bold" fill="#fff" textLength="72.43" lengthAdjust="spacingAndGlyphs" stroke="#fff" stroke-width="0.5" stroke-linejoin="round">North</text>
<text x="127.82" y="661.60" font-size="24.56" font-weight="bold" fill="#fff" textLength="107.46" lengthAdjust="spacingAndGlyphs" stroke="#fff" stroke-width="0.5" stroke-linejoin="round">America</text>
<text x="242.89" y="661.60" font-size="24.56" font-weight="bold" fill="#fff" textLength="20.36" lengthAdjust="spacingAndGlyphs" stroke="#fff" stroke-width="0.5" stroke-linejoin="round">is</text>
<text x="269.81" y="661.60" font-size="24.56" font-weight="bold" fill="#fff" textLength="115.82" lengthAdjust="spacingAndGlyphs" stroke="#fff" stroke-width="0.5" stroke-linejoin="round">Expected</text>
<text x="393.53" y="661.60" font-size="24.56" font-weight="bold" fill="#fff" textLength="25.21" lengthAdjust="spacingAndGlyphs" stroke="#fff" stroke-width="0.5" stroke-linejoin="round">to</text>
<text x="423.93" y="661.60" font-size="24.56" font-weight="bold" fill="#fff" textLength="56.98" lengthAdjust="spacingAndGlyphs" stroke="#fff" stroke-width="0.5" stroke-linejoin="round">Hold</text>
<text x="487.96" y="661.60" font-size="24.56" font-weight="bold" fill="#fff" textLength="36.29" lengthAdjust="spacingAndGlyphs" stroke="#fff" stroke-width="0.5" stroke-linejoin="round">the</text>
<text x="531.74" y="661.60" font-size="24.56" font-weight="bold" fill="#fff" textLength="97.90" lengthAdjust="spacingAndGlyphs" stroke="#fff" stroke-width="0.5" stroke-linejoin="round">Largest</text>
<text x="636.64" y="661.60" font-size="24.56" font-weight="bold" fill="#fff" textLength="82.31" lengthAdjust="spacingAndGlyphs" stroke="#fff" stroke-width="0.5" stroke-linejoin="round">Global</text>
<text x="724.47" y="661.60" font-size="24.56" font-weight="bold" fill="#fff" textLength="78.19" lengthAdjust="spacingAndGlyphs" stroke="#fff" stroke-width="0.5" stroke-linejoin="round">Game</text>
<text x="49.31" y="691.90" font-size="24.56" font-weight="bold" fill="#fff" textLength="101.33" lengthAdjust="spacingAndGlyphs" stroke="#fff" stroke-width="0.5" stroke-linejoin="round">Engines</text>
<text x="156.30" y="691.90" font-size="24.56" font-weight="bold" fill="#fff" textLength="89.49" lengthAdjust="spacingAndGlyphs" stroke="#fff" stroke-width="0.5" stroke-linejoin="round">Market</text>
<text x="253.09" y="691.90" font-size="24.56" font-weight="bold" fill="#fff" textLength="75.24" lengthAdjust="spacingAndGlyphs" stroke="#fff" stroke-width="0.5" stroke-linejoin="round">Share</text>
  <!-- logo -->
  <g id="logo">
    <g transform="translate(-2.5,6)" opacity="0.6" filter="url(#sb)" fill="none" stroke="#7A2F9C" stroke-width="7.8" stroke-linecap="round">
      <path d="M822.4,669.3 A11.6,11.6 0 0 1 845.7,670.6 L845.7,680.3 C845.7,689 852,692.5 857,692 L863.1,690.5"/>
      <line x1="833.8" y1="671.3" x2="833.8" y2="679.2"/>
      <line x1="859" y1="663.5" x2="859" y2="679.2"/>
      <line x1="871.1" y1="659.4" x2="871.1" y2="679.2"/>
      <line x1="821.9" y1="680" x2="821.9" y2="680.01"/>
    </g>
    <g fill="none" stroke="#fff" stroke-width="7.8" stroke-linecap="round">
      <path d="M822.4,669.3 A11.6,11.6 0 0 1 845.7,670.6 L845.7,680.3 C845.7,689 852,692.5 857,692 L863.1,690.5"/>
      <line x1="833.8" y1="671.3" x2="833.8" y2="679.2"/>
      <line x1="859" y1="663.5" x2="859" y2="679.2"/>
      <line x1="871.1" y1="659.4" x2="871.1" y2="679.2"/>
      <line x1="821.9" y1="680" x2="821.9" y2="680.01"/>
    </g>
<text x="887.66" y="678.70" font-size="32.50" font-weight="bold" fill="#6A2A90" textLength="169.76" lengthAdjust="spacingAndGlyphs" opacity="0.45" filter="url(#sb)" transform="translate(-1.5,3.5)">market.us</text>
<text x="887.66" y="678.70" font-size="32.50" font-weight="bold" fill="#fff" textLength="169.76" lengthAdjust="spacingAndGlyphs" stroke="#fff" stroke-width="0.8" stroke-linejoin="round">market.us</text>
<text x="889.23" y="689.70" font-size="6.54" font-weight="bold" fill="#fff" textLength="167.43" lengthAdjust="spacing">ONE STOP SHOP FOR THE REPORTS</text>
  </g>
</svg>
</body>
</html>
